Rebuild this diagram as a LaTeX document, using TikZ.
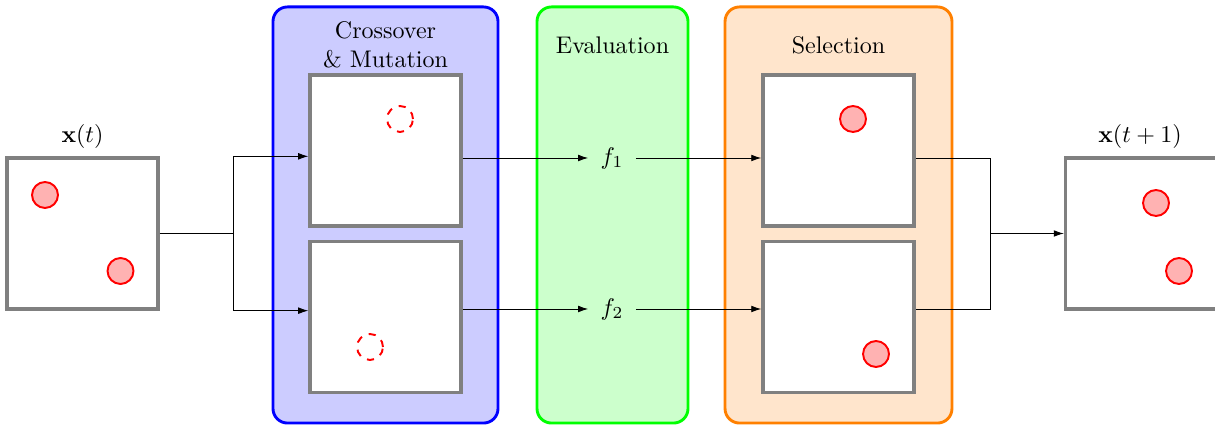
\documentclass[tikz,border=0pt]{standalone}
\usetikzlibrary{arrows.meta}
\tikzset{
  box/.style={draw=gray, line width=1.4pt, fill=white, minimum size=62.8pt, inner sep=0pt},
  panel/.style={very thick, rounded corners=6pt, minimum height=173.1pt, inner sep=0pt},
  sol/.style={circle, draw=red, thick, fill=red!30, minimum size=10.8pt, inner sep=0pt},
  ghost/.style={circle, draw=red, thick, dashed, minimum size=10.8pt, inner sep=0pt},
  conn/.style={draw=black, thin},
  arr/.style={conn, -{Latex[length=4.2pt,width=2.8pt]}},
  fnode/.style={inner sep=5pt},
  ptitle/.style={align=center, inner sep=0pt},
}
\begin{document}
\begin{tikzpicture}[x=0.416pt, y=-0.416pt]
\useasboundingbox (0,0) rectangle (1215,426);
% panels
\node[panel, draw=blue, fill=blue!20, minimum width=93.6pt] (P1) at (385.5,215) {};
\node[panel, draw=green, fill=green!20, minimum width=62.8pt] (P2) at (612.5,215) {};
\node[panel, draw=orange, fill=orange!20, minimum width=94.4pt] (P3) at (838.5,215) {};
\node[ptitle] (T1) at (385.5,45) {Crossover\\\& Mutation};
\node[ptitle] (T2) at (612.5,45) {Evaluation};
\node[ptitle] (T3) at (838.5,45) {Selection};
% boxes
\node[box] (L) at (82.5,233.5) {};
\node[inner sep=0pt] (Lt) at (82.5,136) {$\mathbf{x}(t)$};
\node[box] (C1) at (385.5,150.5) {};
\node[box] (C2) at (385.5,317) {};
\node[box] (S1) at (838.5,150.5) {};
\node[box] (S2) at (838.5,317) {};
\node[box] (R) at (1141,233.5) {};
\node[inner sep=0pt] (Rt) at (1140,136) {$\mathbf{x}(t+1)$};
% solutions
\node[sol] (l1) at (45,195) {};
\node[sol] (l2) at (120.5,271) {};
\node[ghost] (c1) at (400,119) {};
\node[ghost] (c2) at (370,347) {};
\node[sol] (s1) at (853,119) {};
\node[sol] (s2) at (876,354) {};
\node[sol] (r1) at (1156,203) {};
\node[sol] (r2) at (1179,271) {};
% evaluation
\node[fnode] (f1) at (612,158) {$f_1$};
\node[fnode] (f2) at (612,309) {$f_2$};
% connectors
\coordinate (j1) at (233.5,233.5);
\coordinate (j2) at (990,233.5);
\draw[conn] (L.east) -- (j1);
\draw[arr] (j1) |- (C1.west |- L.north);
\draw[arr] (j1) |- (C2.west |- L.south);
\draw[arr] (C1.east |- f1) -- (f1);
\draw[arr] (C2.east |- f2) -- (f2);
\draw[arr] (f1) -- (S1.west |- f1);
\draw[arr] (f2) -- (S2.west |- f2);
\draw[conn] (S1.east |- f1) -| (j2) |- (S2.east |- f2);
\draw[arr] (j2) -- (R.west);
\end{tikzpicture}
\end{document}
